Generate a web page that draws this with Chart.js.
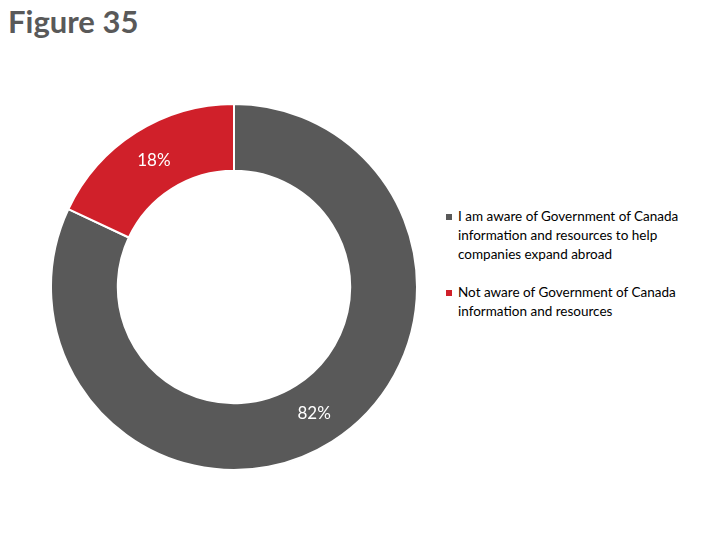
<!DOCTYPE html>
<html><head><meta charset="utf-8">
<script src="https://cdn.jsdelivr.net/npm/chart.js@4/dist/chart.umd.min.js"></script>
<style>
body{margin:0;width:720px;height:540px;background:#fff;position:relative;font-family:Lato,"Open Sans",sans-serif;}
#title{position:absolute;left:8px;top:2px;font-size:31px;font-weight:bold;color:#595959;}
#wrap{position:absolute;left:50px;top:103px;width:368px;height:368px;}
#legend{position:absolute;left:446px;top:207px;width:260px;font-size:13.5px;color:#000;line-height:19px;}
.item{position:relative;padding-left:12px;margin-bottom:19px;}
.sw{position:absolute;left:0;top:7px;width:6px;height:6px;}
</style></head><body>
<div id="title">Figure 35</div>
<div id="wrap"><canvas id="c"></canvas></div>
<div id="legend"></div>
<script>
const categories=["I am aware of Government of Canada information and resources to help companies expand abroad","Not aware of Government of Canada information and resources"];
const values=[82,18];
const colors=["#595959","#D0202A"];
const lg=document.getElementById('legend');
categories.forEach((c,i)=>{lg.innerHTML+=`<div class="item"><span class="sw" style="background:${colors[i]}"></span>${c}</div>`;});
const labelPlugin={id:'lbl',afterDatasetsDraw(ch){const ctx=ch.ctx;ctx.save();ctx.fillStyle='#fff';ctx.font='17px Lato, "Open Sans", sans-serif';ctx.textAlign='center';ctx.textBaseline='middle';
ch.getDatasetMeta(0).data.forEach((a,i)=>{const p=a.tooltipPosition();ctx.fillText(values[i]+'%',p.x,p.y);});ctx.restore();}};
new Chart(document.getElementById('c'),{type:'doughnut',data:{labels:categories,datasets:[{data:values,backgroundColor:colors,borderColor:'#fff',borderWidth:2}]},
options:{responsive:true,maintainAspectRatio:false,animation:false,cutout:'63.5%',layout:{padding:0},plugins:{legend:{display:false},tooltip:{enabled:false}}},plugins:[labelPlugin]});
</script></body></html>
